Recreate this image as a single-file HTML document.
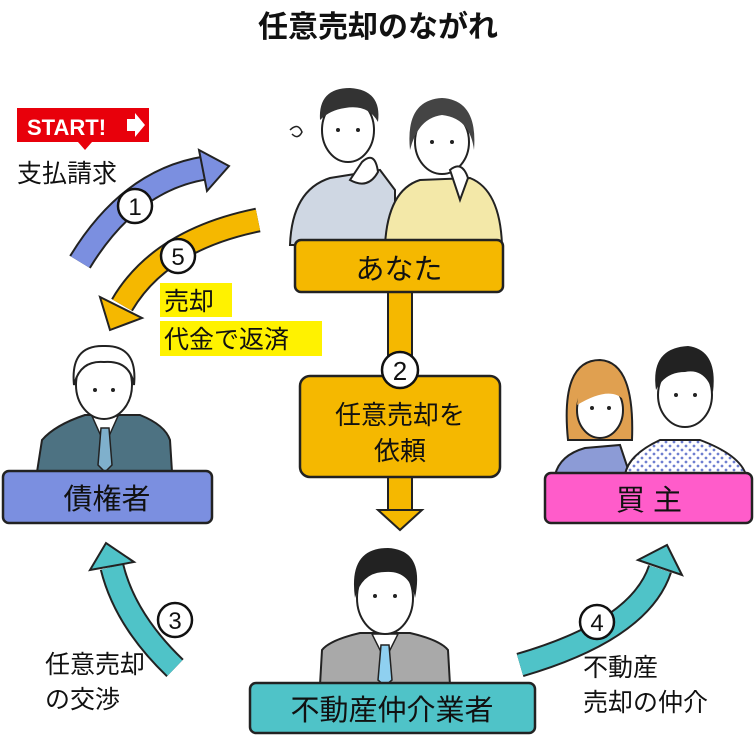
<!DOCTYPE html>
<html><head><meta charset="utf-8"><style>
html,body{margin:0;padding:0;background:#fff;}
svg{display:block;}
text{font-family:"Liberation Sans","Noto Sans CJK JP",sans-serif;}
</style></head><body>
<svg width="755" height="737" viewBox="0 0 755 737" xmlns="http://www.w3.org/2000/svg">
<defs>
<pattern id="dots" width="8" height="8" patternUnits="userSpaceOnUse"><rect width="8" height="8" fill="#fff"/><circle cx="2" cy="2" r="1.4" fill="#6f7fd0"/><circle cx="6" cy="6" r="1.4" fill="#6f7fd0"/></pattern>
</defs>
<text x="378" y="37" text-anchor="middle" font-size="30" font-weight="bold" fill="#111">任意売却のながれ</text>

<!-- START badge -->
<rect x="17" y="108" width="132" height="34" fill="#e8000b"/>
<polygon points="78,142 92,142 85,150" fill="#e8000b"/>
<text x="27" y="135" font-size="22" font-weight="bold" fill="#fff">START!</text>
<polygon points="127,119 135,119 135,113 145,125 135,137 135,131 127,131" fill="#fff"/>
<text x="17" y="182" font-size="25" fill="#111">支払請求</text>

<!-- arrow 1 -->
<path d="M80 262 Q130 180 205 168" fill="none" stroke="#222" stroke-width="25"/>
<path d="M80 262 Q130 180 205 168" fill="none" stroke="#7b8fe0" stroke-width="21"/>
<polygon points="199,150 229,166 207,191" fill="#7b8fe0" stroke="#222" stroke-width="2"/>
<circle cx="135" cy="206" r="17" fill="#fff" stroke="#111" stroke-width="2.5"/>
<text x="135" y="215" text-anchor="middle" font-size="24" fill="#111">1</text>

<!-- arrow 5 -->
<path d="M258 220 Q160 240 122 305" fill="none" stroke="#222" stroke-width="25"/>
<path d="M258 220 Q160 240 122 305" fill="none" stroke="#f5b800" stroke-width="21"/>
<polygon points="100,297 142,318 110,330" fill="#f5b800" stroke="#222" stroke-width="2"/>
<circle cx="178" cy="256" r="17" fill="#fff" stroke="#111" stroke-width="2.5"/>
<text x="178" y="265" text-anchor="middle" font-size="24" fill="#111">5</text>

<rect x="160" y="283" width="72" height="34" fill="#fff200"/>
<rect x="160" y="321" width="162" height="35" fill="#fff200"/>
<text x="164" y="310" font-size="25" fill="#111">売却</text>
<text x="164" y="348" font-size="25" fill="#111">代金で返済</text>

<!-- couple top -->
<path d="M290 245 Q292 190 330 178 L380 170 L395 190 L395 245 Z" fill="#cfd7e3" stroke="#222" stroke-width="2"/>
<path d="M385 245 Q388 190 420 180 L470 178 Q500 190 502 245 Z" fill="#f3e8a8" stroke="#222" stroke-width="2"/>
<ellipse cx="348" cy="130" rx="26" ry="32" fill="#fff" stroke="#222" stroke-width="2"/>
<path d="M320 120 Q318 88 350 88 Q382 90 378 122 Q368 104 345 108 Q330 110 320 120Z" fill="#333"/>
<circle cx="338" cy="130" r="2" fill="#222"/><circle cx="358" cy="130" r="2" fill="#222"/>
<ellipse cx="442" cy="142" rx="27" ry="32" fill="#fff" stroke="#222" stroke-width="2"/>
<path d="M410 150 Q405 100 442 98 Q478 100 474 150 Q470 118 442 115 Q418 118 410 150Z" fill="#444"/>
<circle cx="432" cy="142" r="2" fill="#222"/><circle cx="452" cy="142" r="2" fill="#222"/>
<path d="M362 162 Q375 150 378 172 Q368 190 350 180Z" fill="#fff" stroke="#222" stroke-width="2"/>
<path d="M450 170 Q462 160 468 178 L460 200 Z" fill="#fff" stroke="#222" stroke-width="2"/>
<path d="M290 130 q8 -8 12 2 q-4 8 -10 2" fill="none" stroke="#222" stroke-width="1.5"/>

<!-- あなた box + stem -->
<rect x="388" y="290" width="24" height="90" fill="#f5b800" stroke="#222" stroke-width="2"/>
<rect x="295" y="240" width="208" height="52" rx="6" fill="#f5b800" stroke="#222" stroke-width="2.5"/>
<text x="399" y="279" text-anchor="middle" font-size="29" fill="#111">あなた</text>
<rect x="388" y="470" width="24" height="42" fill="#f5b800" stroke="#222" stroke-width="2"/>
<polygon points="378,510 422,510 400,530" fill="#f5b800" stroke="#222" stroke-width="2"/>
<rect x="300" y="376" width="200" height="101" rx="10" fill="#f5b800" stroke="#222" stroke-width="2.5"/>
<circle cx="400" cy="370" r="18" fill="#fff" stroke="#111" stroke-width="2.5"/>
<text x="400" y="380" text-anchor="middle" font-size="26" fill="#111">2</text>
<text x="400" y="424" text-anchor="middle" font-size="26" fill="#111">任意売却を</text>
<text x="400" y="460" text-anchor="middle" font-size="26" fill="#111">依頼</text>

<!-- creditor -->
<path d="M37 472 L42 440 Q55 425 85 415 L140 415 Q165 425 170 440 L172 472 Z" fill="#4d7282" stroke="#222" stroke-width="2"/>
<polygon points="92,416 118,416 105,445" fill="#fff" stroke="#222" stroke-width="1.5"/>
<polygon points="101,428 109,428 112,465 105,472 98,465" fill="#7fb0cc" stroke="#222" stroke-width="1.5"/>
<ellipse cx="104" cy="385" rx="28" ry="34" fill="#fff" stroke="#222" stroke-width="2"/>
<path d="M74 385 Q70 345 104 346 Q138 345 134 385 Q130 360 104 362 Q80 360 74 385Z" fill="#fff" stroke="#222" stroke-width="2"/>
<circle cx="95" cy="390" r="2" fill="#222"/><circle cx="113" cy="390" r="2" fill="#222"/>
<rect x="3" y="471" width="209" height="52" rx="6" fill="#7b8fe0" stroke="#222" stroke-width="2.5"/>
<text x="107" y="509" text-anchor="middle" font-size="29" fill="#111">債権者</text>

<!-- buyers -->
<path d="M555 475 Q560 455 585 448 L620 445 L630 475 Z" fill="#8c9bd6" stroke="#222" stroke-width="2"/>
<path d="M568 440 Q560 360 600 360 Q635 362 632 440 Z" fill="#e0a050" stroke="#222" stroke-width="2"/>
<ellipse cx="600" cy="410" rx="23" ry="28" fill="#fff" stroke="#222" stroke-width="2"/>
<path d="M577 405 Q580 372 605 372 Q625 375 624 400 Q610 385 577 405Z" fill="#e0a050"/>
<circle cx="592" cy="408" r="2" fill="#222"/><circle cx="609" cy="408" r="2" fill="#222"/>
<path d="M625 475 Q628 455 660 440 L700 440 Q740 455 746 475 Z" fill="url(#dots)" stroke="#222" stroke-width="2"/>
<ellipse cx="685" cy="395" rx="27" ry="32" fill="#fff" stroke="#222" stroke-width="2"/>
<path d="M656 390 Q650 348 688 346 Q718 350 713 392 Q705 368 685 372 Q665 372 656 390Z" fill="#222"/>
<circle cx="676" cy="395" r="2" fill="#222"/><circle cx="695" cy="395" r="2" fill="#222"/>
<rect x="545" y="473" width="207" height="50" rx="6" fill="#ff5cca" stroke="#222" stroke-width="2.5"/>
<text x="649" y="510" text-anchor="middle" font-size="29" fill="#111">買 主</text>

<!-- agent -->
<path d="M320 685 L322 650 Q330 640 360 633 L410 633 Q440 640 448 650 L450 685 Z" fill="#a9a9a9" stroke="#222" stroke-width="2"/>
<polygon points="372,634 398,634 385,660" fill="#fff" stroke="#222" stroke-width="1.5"/>
<polygon points="381,645 389,645 392,680 385,686 378,680" fill="#8fd0f0" stroke="#222" stroke-width="1.5"/>
<ellipse cx="385" cy="598" rx="28" ry="36" fill="#fff" stroke="#222" stroke-width="2"/>
<path d="M355 598 Q348 548 388 548 Q425 550 415 598 Q410 570 385 572 Q362 572 355 598Z" fill="#222"/>
<circle cx="375" cy="596" r="2" fill="#222"/><circle cx="395" cy="596" r="2" fill="#222"/>
<rect x="250" y="683" width="285" height="50" rx="6" fill="#4fc3c8" stroke="#222" stroke-width="2.5"/>
<text x="392" y="720" text-anchor="middle" font-size="29" fill="#111">不動産仲介業者</text>

<!-- arrow 3 -->
<path d="M175 668 Q125 620 112 567" fill="none" stroke="#222" stroke-width="25"/>
<path d="M175 668 Q125 620 112 567" fill="none" stroke="#4fc3c8" stroke-width="21"/>
<polygon points="90,570 106,543 134,562" fill="#4fc3c8" stroke="#222" stroke-width="2"/>
<circle cx="175" cy="620" r="17" fill="#fff" stroke="#111" stroke-width="2.5"/>
<text x="175" y="629" text-anchor="middle" font-size="24" fill="#111">3</text>
<!-- arrow 4 -->
<path d="M520 665 Q640 630 660 569" fill="none" stroke="#222" stroke-width="25"/>
<path d="M520 665 Q640 630 660 569" fill="none" stroke="#4fc3c8" stroke-width="21"/>
<polygon points="638,560 667,545 682,575" fill="#4fc3c8" stroke="#222" stroke-width="2"/>
<circle cx="597" cy="622" r="17" fill="#fff" stroke="#111" stroke-width="2.5"/>
<text x="597" y="631" text-anchor="middle" font-size="24" fill="#111">4</text>

<text x="45" y="673" font-size="25" fill="#111">任意売却</text>
<text x="45" y="708" font-size="25" fill="#111">の交渉</text>
<text x="583" y="676" font-size="25" fill="#111">不動産</text>
<text x="583" y="711" font-size="25" fill="#111">売却の仲介</text>
</svg>
</body></html>
